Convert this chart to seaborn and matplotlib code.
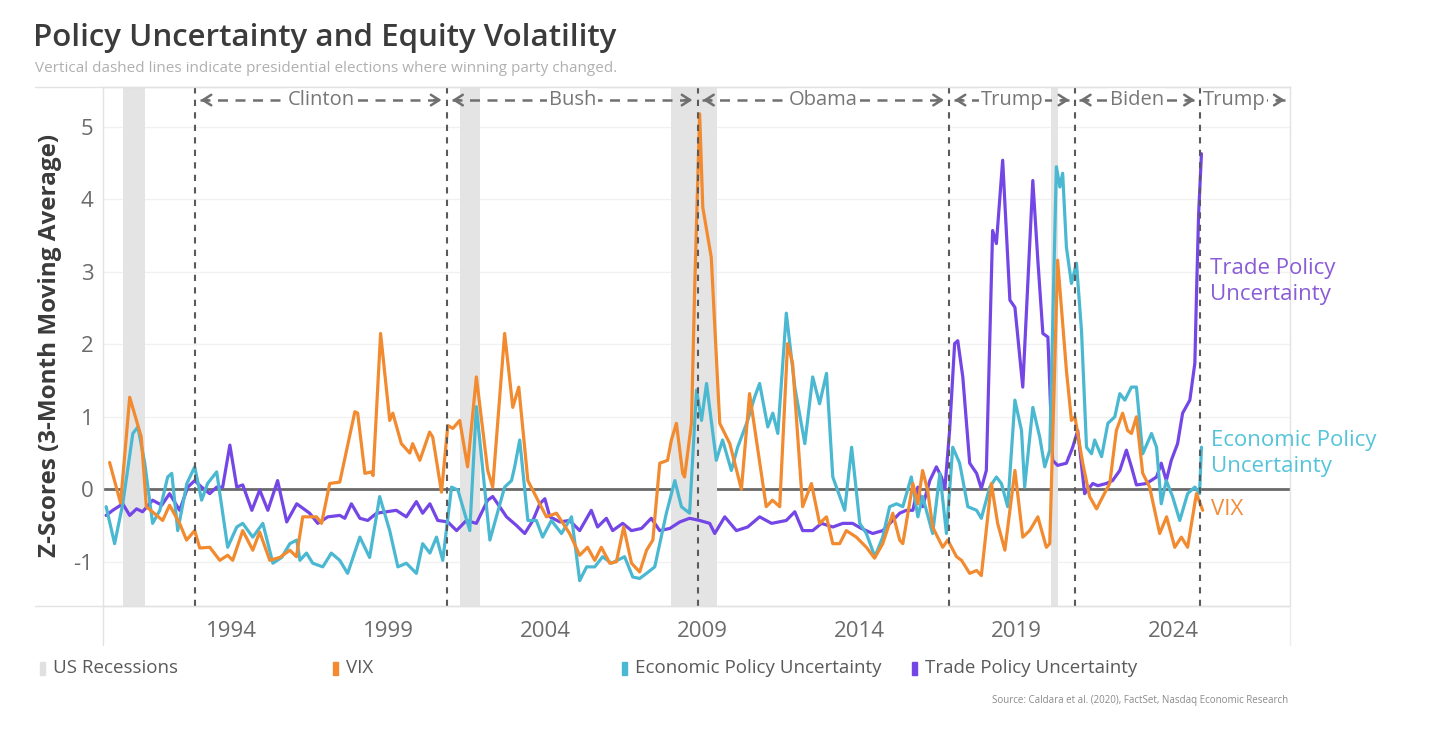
import numpy as np
import pandas as pd
import matplotlib
matplotlib.use("Agg")
import matplotlib.pyplot as plt
from matplotlib.lines import Line2D
from matplotlib.patches import Rectangle
import seaborn as sns

# ---- data (decimal years) ----
vix_year = [1990.11, 1990.46, 1990.75, 1991.12, 1991.28, 1991.80, 1992.02, 1992.34, 1992.56, 1992.82,
            1992.98, 1993.30, 1993.62, 1993.87, 1994.03, 1994.35, 1994.67, 1994.89, 1995.21, 1995.53,
            1995.85, 1996.06, 1996.26, 1996.70, 1996.86, 1997.12, 1997.44, 1997.92, 1998.01, 1998.24,
            1998.45, 1998.50, 1998.74, 1999.03, 1999.13, 1999.40, 1999.67, 1999.76, 1999.99, 2000.30,
            2000.40, 2000.68, 2000.88, 2001.04, 2001.26, 2001.51, 2001.79, 2002.15, 2002.31, 2002.69,
            2002.95, 2003.14, 2003.43, 2004.02, 2004.34, 2004.76, 2005.08, 2005.33, 2005.56, 2005.77,
            2006.04, 2006.25, 2006.48, 2006.73, 2006.99, 2007.21, 2007.41, 2007.63, 2007.88, 2008.00,
            2008.16, 2008.36, 2008.42, 2008.64, 2008.74, 2008.90, 2009.00, 2009.27, 2009.54, 2009.86,
            2010.23, 2010.49, 2011.02, 2011.22, 2011.45, 2011.70, 2011.86, 2012.18, 2012.46, 2012.72,
            2012.94, 2013.14, 2013.36, 2013.57, 2013.89, 2014.21, 2014.47, 2014.73, 2015.05, 2015.27,
            2015.37, 2015.69, 2015.85, 2016.00, 2016.16, 2016.32, 2016.64, 2016.80, 2017.08, 2017.24,
            2017.50, 2017.72, 2017.87, 2018.19, 2018.39, 2018.62, 2018.94, 2019.19, 2019.41, 2019.67,
            2019.94, 2020.05, 2020.30, 2020.58, 2020.74, 2020.85, 2021.10, 2021.32, 2021.54, 2021.74,
            2021.96, 2022.17, 2022.37, 2022.53, 2022.65, 2022.81, 2023.01, 2023.23, 2023.55, 2023.77,
            2024.03, 2024.24, 2024.44, 2024.72, 2024.92]
vix_val = [0.37, -0.19, 1.27, 0.72, -0.24, -0.43, -0.22, -0.47, -0.70, -0.57,
           -0.81, -0.80, -0.98, -0.91, -0.98, -0.57, -0.84, -0.59, -0.98, -0.94,
           -0.84, -0.93, -0.38, -0.38, -0.47, 0.08, 0.10, 1.07, 1.05, 0.22,
           0.24, 0.19, 2.15, 0.95, 1.05, 0.63, 0.50, 0.63, 0.40, 0.79,
           0.72, -0.04, 0.88, 0.84, 0.95, 0.31, 1.55, 0.26, 0.03, 2.15,
           1.13, 1.41, 0.12, -0.38, -0.33, -0.61, -0.91, -0.80, -0.98, -0.80,
           -1.02, -1.00, -0.52, -1.02, -1.14, -0.84, -0.70, 0.36, 0.40, 0.68,
           0.91, 0.22, 0.17, 0.91, 2.74, 5.18, 3.89, 3.20, 0.91, 0.63,
           0.00, 1.32, -0.24, -0.15, -0.24, 2.01, 1.74, -0.24, 0.08, -0.47,
           -0.38, -0.75, -0.75, -0.57, -0.66, -0.80, -0.95, -0.75, -0.33, -0.70,
           -0.75, 0.08, -0.20, 0.26, -0.01, -0.52, -0.80, -0.70, -0.93, -0.98,
           -1.16, -1.12, -1.19, 0.08, -0.47, -0.84, 0.26, -0.66, -0.57, -0.38,
           -0.80, -0.75, 3.16, 1.64, 0.95, 1.00, 0.36, -0.10, -0.27, -0.10,
           0.08, 0.81, 1.05, 0.81, 0.77, 1.00, 0.22, 0.03, -0.61, -0.38,
           -0.80, -0.66, -0.80, -0.06, -0.29]

epu_year = [1990.00, 1990.27, 1990.53, 1990.85, 1991.01, 1991.23, 1991.48, 1991.71, 1991.96, 1992.09,
            1992.28, 1992.57, 1992.82, 1993.04, 1993.23, 1993.52, 1993.87, 1994.16, 1994.35, 1994.67,
            1994.99, 1995.31, 1995.59, 1995.85, 1996.07, 1996.17, 1996.38, 1996.58, 1996.90, 1997.17,
            1997.44, 1997.69, 1998.08, 1998.39, 1998.71, 1999.03, 1999.29, 1999.56, 1999.88, 2000.08,
            2000.31, 2000.52, 2000.72, 2001.00, 2001.20, 2001.58, 2001.79, 2002.22, 2002.69, 2002.91,
            2003.01, 2003.17, 2003.43, 2003.70, 2003.90, 2004.18, 2004.50, 2004.82, 2005.08, 2005.30,
            2005.56, 2005.81, 2006.09, 2006.51, 2006.77, 2006.99, 2007.21, 2007.47, 2007.84, 2008.11,
            2008.32, 2008.58, 2008.80, 2008.96, 2009.12, 2009.43, 2009.63, 2009.91, 2010.11, 2010.43,
            2010.65, 2010.81, 2011.07, 2011.23, 2011.39, 2011.66, 2011.93, 2012.25, 2012.50, 2012.72,
            2012.94, 2013.14, 2013.52, 2013.74, 2014.00, 2014.21, 2014.48, 2014.73, 2014.95, 2015.17,
            2015.37, 2015.64, 2015.85, 2016.00, 2016.32, 2016.55, 2016.76, 2016.96, 2017.18, 2017.44,
            2017.72, 2017.87, 2018.14, 2018.35, 2018.51, 2018.71, 2018.94, 2019.15, 2019.25, 2019.51,
            2019.73, 2019.89, 2020.05, 2020.26, 2020.37, 2020.46, 2020.58, 2020.74, 2020.90, 2021.06,
            2021.22, 2021.38, 2021.48, 2021.70, 2021.90, 2022.12, 2022.28, 2022.44, 2022.65, 2022.81,
            2023.01, 2023.29, 2023.45, 2023.60, 2023.76, 2023.96, 2024.19, 2024.44, 2024.67, 2024.82,
            2024.88]
epu_val = [-0.24, -0.75, -0.20, 0.77, 0.86, 0.36, -0.47, -0.29, 0.17, 0.22,
           -0.57, 0.08, 0.31, -0.15, 0.08, 0.24, -0.80, -0.52, -0.47, -0.66,
           -0.47, -1.02, -0.94, -0.75, -0.70, -0.98, -0.88, -1.02, -1.07, -0.88,
           -0.98, -1.16, -0.66, -0.94, -0.10, -0.57, -1.07, -1.02, -1.16, -0.75,
           -0.88, -0.66, -0.98, 0.03, -0.01, -0.57, 1.14, -0.70, 0.03, 0.12,
           0.31, 0.68, -0.43, -0.43, -0.66, -0.43, -0.61, -0.38, -1.26, -1.07,
           -1.07, -0.93, -1.02, -0.93, -1.21, -1.23, -1.16, -1.07, -0.33, 0.12,
           -0.24, -0.33, 1.37, 0.95, 1.46, 0.40, 0.68, 0.26, 0.58, 0.95,
           1.27, 1.46, 0.86, 1.05, 0.77, 2.43, 1.41, 0.63, 1.55, 1.18,
           1.60, 0.17, -0.29, 0.58, -0.47, -0.61, -0.93, -0.66, -0.24, -0.20,
           -0.24, 0.17, -0.38, -0.10, -0.61, 0.22, -0.61, 0.58, 0.36, -0.24,
           -0.29, -0.40, 0.03, 0.17, 0.08, -0.24, 1.23, 0.81, 0.03, 1.13,
           0.72, 0.31, 0.54, 4.45, 4.17, 4.36, 3.34, 2.84, 3.12, 2.19,
           0.58, 0.49, 0.68, 0.45, 0.91, 1.00, 1.32, 1.23, 1.41, 1.41,
           0.49, 0.77, 0.58, -0.20, 0.12, -0.10, -0.43, -0.06, 0.03, -0.06,
           0.58]

tpu_year = [1990.00, 1990.21, 1990.53, 1990.75, 1990.97, 1991.16, 1991.48, 1991.77, 1992.02, 1992.34,
            1992.60, 1992.82, 1993.04, 1993.30, 1993.52, 1993.71, 1993.94, 1994.16, 1994.35, 1994.64,
            1994.89, 1995.15, 1995.46, 1995.75, 1996.07, 1996.48, 1996.74, 1997.06, 1997.44, 1997.60,
            1997.81, 1998.08, 1998.33, 1998.61, 1998.93, 1999.24, 1999.56, 1999.88, 2000.08, 2000.31,
            2000.56, 2000.88, 2001.16, 2001.47, 2001.79, 2002.15, 2002.31, 2002.47, 2002.75, 2003.07,
            2003.33, 2003.59, 2003.81, 2003.97, 2004.13, 2004.45, 2004.76, 2005.08, 2005.45, 2005.65,
            2005.93, 2006.13, 2006.45, 2006.73, 2007.05, 2007.36, 2007.63, 2007.95, 2008.27, 2008.58,
            2008.90, 2009.22, 2009.38, 2009.70, 2010.07, 2010.43, 2010.81, 2011.19, 2011.66, 2011.93,
            2012.18, 2012.50, 2012.78, 2013.14, 2013.46, 2013.77, 2014.05, 2014.41, 2014.73, 2015.05,
            2015.27, 2015.48, 2015.69, 2015.85, 2016.00, 2016.23, 2016.44, 2016.60, 2016.71, 2016.86,
            2017.02, 2017.12, 2017.28, 2017.50, 2017.72, 2017.87, 2018.03, 2018.23, 2018.35, 2018.55,
            2018.78, 2018.94, 2019.19, 2019.51, 2019.67, 2019.83, 2019.99, 2020.14, 2020.30, 2020.58,
            2020.78, 2020.94, 2021.16, 2021.42, 2021.58, 2021.85, 2022.05, 2022.28, 2022.49, 2022.65,
            2022.81, 2023.13, 2023.45, 2023.60, 2023.76, 2023.92, 2024.12, 2024.28, 2024.51, 2024.67,
            2024.72, 2024.79, 2024.88]
tpu_val = [-0.36, -0.29, -0.20, -0.36, -0.27, -0.31, -0.15, -0.22, -0.06, -0.29,
           0.03, 0.12, 0.03, -0.06, 0.03, 0.03, 0.61, 0.03, 0.06, -0.29,
           -0.01, -0.29, 0.12, -0.45, -0.20, -0.33, -0.47, -0.38, -0.36, -0.40,
           -0.20, -0.40, -0.43, -0.33, -0.31, -0.29, -0.38, -0.17, -0.33, -0.20,
           -0.43, -0.45, -0.57, -0.43, -0.47, -0.15, -0.10, -0.20, -0.38, -0.50,
           -0.61, -0.43, -0.20, -0.13, -0.38, -0.45, -0.43, -0.57, -0.29, -0.52,
           -0.40, -0.57, -0.47, -0.57, -0.54, -0.40, -0.57, -0.54, -0.45, -0.40,
           -0.43, -0.47, -0.61, -0.38, -0.57, -0.52, -0.38, -0.47, -0.43, -0.31,
           -0.57, -0.57, -0.47, -0.52, -0.47, -0.47, -0.54, -0.61, -0.57, -0.43,
           -0.33, -0.29, -0.29, 0.03, -0.24, 0.12, 0.31, 0.17, 0.01, 0.81,
           2.01, 2.05, 1.55, 0.36, 0.22, 0.01, 0.26, 3.57, 3.39, 4.54,
           2.61, 2.51, 1.41, 4.26, 3.16, 2.15, 2.10, 0.40, 0.33, 0.36,
           0.58, 0.81, -0.06, 0.08, 0.05, 0.08, 0.12, 0.26, 0.54, 0.31,
           0.06, 0.08, 0.17, 0.36, 0.12, 0.40, 0.63, 1.05, 1.23, 1.74,
           2.65, 3.80, 4.63]

rec_start = [1990.55, 2001.26, 2007.98, 2020.08]
rec_end = [1991.25, 2001.90, 2009.45, 2020.30]

elections = [1992.84, 2000.85, 2008.84, 2016.85, 2020.84, 2024.84]
presidents = ["Clinton", "Bush", "Obama", "Trump", "Biden", "Trump"]

year_ticks = [1994, 1999, 2004, 2009, 2014, 2019, 2024]
y_ticks = [-1, 0, 1, 2, 3, 4, 5]

# ---- style ----
c_vix = "#F28A30"
c_epu = "#4BB8D2"
c_tpu = "#7446E6"
grey_txt = "#6b6b6b"

sns.set_style("white")
plt.rcParams["font.family"] = ["Open Sans", "DejaVu Sans"]

W, H = 1442, 732
fig = plt.figure(figsize=(W / 100, H / 100), dpi=100)
ax = fig.add_axes([103 / W, 1 - 606 / H, (1290 - 103) / W, (606 - 87) / H])

x_min, x_max = 1989.9, 2027.7
ax.set_xlim(x_min, x_max)
ax.set_ylim(-1.61, 5.55)

df = pd.concat([
    pd.DataFrame({"year": tpu_year, "value": tpu_val, "series": "Trade Policy Uncertainty"}),
    pd.DataFrame({"year": epu_year, "value": epu_val, "series": "Economic Policy Uncertainty"}),
    pd.DataFrame({"year": vix_year, "value": vix_val, "series": "VIX"}),
], ignore_index=True)

palette = {"VIX": c_vix, "Economic Policy Uncertainty": c_epu, "Trade Policy Uncertainty": c_tpu}
sns.lineplot(data=df, x="year", y="value", hue="series", palette=palette,
             hue_order=["Trade Policy Uncertainty", "Economic Policy Uncertainty", "VIX"],
             estimator=None, sort=True, linewidth=2.3, legend=False, ax=ax, zorder=3)

# zero line, recessions, elections
ax.axhline(0, color="#6a6a6a", lw=2, zorder=1)
for s, e in zip(rec_start, rec_end):
    ax.axvspan(s, e, color="#e4e4e4", lw=0, zorder=2)
for x in elections:
    ax.axvline(x, color="#5a5a5a", lw=1.5, ls=(0, (3, 3)), zorder=4)

# president arrows along top
arrow_y = 5.37
bounds = elections + [x_max]
akw = dict(color="#707070", lw=1.8)
for i, name in enumerate(presidents):
    s, e = bounds[i], bounds[i + 1]
    last = i == len(presidents) - 1
    ax.plot([s + 0.15, e - 0.15], [arrow_y, arrow_y], ls=(0, (4, 3)), zorder=5, **akw)
    if not last:
        ax.annotate("", xy=(s + 0.08, arrow_y), xytext=(s + 0.5, arrow_y),
                    arrowprops=dict(arrowstyle="->,head_length=0.6,head_width=0.38", **akw), zorder=5)
    ax.annotate("", xy=(e - 0.08, arrow_y), xytext=(e - 0.5, arrow_y),
                arrowprops=dict(arrowstyle="->,head_length=0.6,head_width=0.38", **akw), zorder=5)
    if last:
        ax.text(s + 0.1, arrow_y, name, ha="left", va="center", fontsize=14.5, color="#777777",
                bbox=dict(fc="white", ec="none", pad=0.8), zorder=6)
    else:
        ax.text((s + e) / 2, arrow_y, name, ha="center", va="center", fontsize=14.5, color="#777777",
                bbox=dict(fc="white", ec="none", pad=1.5), zorder=6)

# series labels at right
ax.text(2025.15, 2.87, "Trade Policy\nUncertainty", color="#8a5cd6", fontsize=16,
        va="center", ha="left", linespacing=1.3)
ax.text(2025.2, 0.49, "Economic Policy\nUncertainty", color="#55c4da", fontsize=16,
        va="center", ha="left", linespacing=1.3)
ax.text(2025.2, -0.28, "VIX", color="#f08c3a", fontsize=16, va="center", ha="left")

# axes styling
ax.set_xticks(year_ticks)
ax.set_xticklabels([str(y) for y in year_ticks])
ax.set_yticks(y_ticks)
ax.set_yticklabels([str(v) for v in y_ticks])
ax.tick_params(axis="both", length=0, labelsize=16, colors=grey_txt)
ax.tick_params(axis="x", pad=11)
ax.tick_params(axis="y", pad=7)
ax.set_xlabel("")
ax.set_ylabel("")
ax.yaxis.grid(True, color="#f1f1f1", lw=1)
ax.set_axisbelow(True)
for sp in ax.spines.values():
    sp.set_color("#e2e2e2")
    sp.set_linewidth(1)

# frame lines like the original dashboard
fig.add_artist(Line2D([35 / W, 1290 / W], [1 - 87 / H] * 2, color="#e2e2e2", lw=1))
fig.add_artist(Line2D([35 / W, 1290 / W], [1 - 606 / H] * 2, color="#e2e2e2", lw=1))
fig.add_artist(Line2D([103 / W] * 2, [1 - 606 / H, 1 - 645 / H], color="#e2e2e2", lw=1))
fig.add_artist(Line2D([1290 / W] * 2, [1 - 606 / H, 1 - 645 / H], color="#eeeeee", lw=1))

# titles
fig.text(33 / W, 1 - 38 / H, "Policy Uncertainty and Equity Volatility", fontsize=22.5,
         fontweight="semibold", color="#3b3b3b", va="center", ha="left")
fig.text(35 / W, 1 - 68 / H,
         "Vertical dashed lines indicate presidential elections where winning party changed.",
         fontsize=11, color="#b0b0b0", va="center", ha="left")
fig.text(50 / W, 1 - 345 / H, "Z-Scores (3-Month Moving Average)", rotation=90, fontsize=17.5,
         fontweight="bold", color="#3b3b3b", va="center", ha="center")

# legend row
legend_items = [("US Recessions", "#e0e0e0", 40), ("VIX", c_vix, 333),
                ("Economic Policy Uncertainty", c_epu, 622), ("Trade Policy Uncertainty", c_tpu, 912)]
for label, col, px in legend_items:
    fig.add_artist(Rectangle((px / W, 1 - 675 / H), 5 / W, 13 / H, color=col, transform=fig.transFigure))
    fig.text((px + 13) / W, 1 - 668 / H, label, fontsize=13.5, color="#5a5a5a", va="center", ha="left")

fig.text(1288 / W, 1 - 700 / H, "Source: Caldara et al. (2020), FactSet, Nasdaq Economic Research",
         fontsize=7, color="#8a8a8a", va="center", ha="right")

fig.savefig("out.png", dpi=100)
